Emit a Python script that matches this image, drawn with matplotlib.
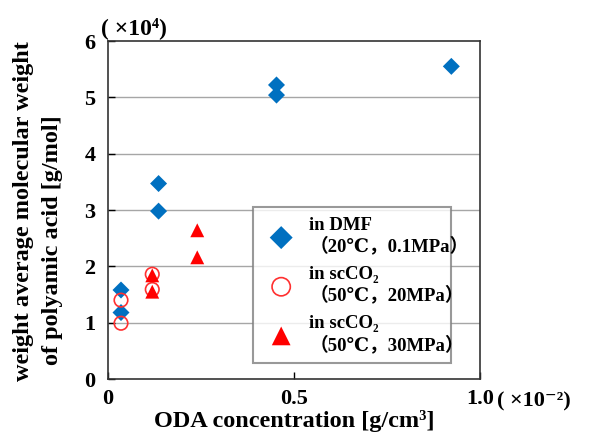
"""ODA concentration vs weight average molecular weight of polyamic acid."""

import matplotlib
matplotlib.use("Agg")
import matplotlib.pyplot as plt

# data
dmf_x = [0.035, 0.035, 0.136, 0.136, 0.453, 0.453, 0.923]
dmf_y = [1.58, 1.18, 3.47, 2.98, 5.22, 5.04, 5.55]

sc20_x = [0.035, 0.035, 0.119, 0.119]
sc20_y = [1.40, 0.99, 1.86, 1.59]

sc30_x = [0.119, 0.119, 0.240, 0.240]
sc30_y = [1.84, 1.55, 2.16, 2.64]

labels = [
    "in DMF\n（20℃，0.1MPa）",
    "in scCO₂\n（50℃，20MPa）",
    "in scCO₂\n（50℃，30MPa）",
]
x_ticks = [0, 0.5, 1.0]
x_tick_labels = ["0", "0.5", "1.0"]
y_ticks = [0, 1, 2, 3, 4, 5, 6]

FONT = ["Liberation Serif", "DejaVu Serif", "Noto Sans CJK JP"]
plt.rcParams["font.family"] = FONT
plt.rcParams["font.weight"] = "bold"

fig = plt.figure(figsize=(5.93, 4.40), dpi=100)
ax = fig.add_axes([0.1821, 0.1386, 0.6273, 0.7682])

ax.set_xlim(0, 1.0)
ax.set_ylim(0, 6)

for y in y_ticks[1:-1]:
    ax.axhline(y, color="#a6a6a6", lw=1.0, zorder=0)

ax.scatter(dmf_x, dmf_y, marker="D", s=75, color="#0070c0",
           edgecolors="none", label=labels[0], zorder=3)
ax.scatter(sc20_x, sc20_y, marker="o", s=95, facecolors="none",
           edgecolors="#ff3030", linewidths=1.2, label=labels[1], zorder=3)
ax.scatter(sc30_x, sc30_y, marker="^", s=100, color="#ff0000",
           edgecolors="none", label=labels[2], zorder=4)

ax.set_xticks(x_ticks)
ax.set_xticklabels(x_tick_labels)
ax.set_yticks(y_ticks)
ax.tick_params(direction="in", length=5, width=1, labelsize=16)
ax.tick_params(axis="x", pad=7)
ax.tick_params(axis="y", pad=9)
for lab in ax.get_xticklabels() + ax.get_yticklabels():
    lab.set_fontweight("bold")

for sp in ax.spines.values():
    sp.set_color("#333333")
    sp.set_linewidth(1.2)

leg = ax.legend(
    loc="lower left", bbox_to_anchor=(0.39, 0.047, 0.532, 0.524),
    mode="expand", frameon=True, fancybox=False, edgecolor="#808080",
    prop={"size": 13.5, "weight": "bold", "family": FONT},
    labelspacing=0.55, handletextpad=0.5, borderpad=0.5,
    scatterpoints=1, borderaxespad=0, markerscale=1.35,
)
leg.get_frame().set_linewidth(1.5)

fig.text(0.497, 0.044, "ODA concentration [g/cm³]",
         fontsize=17.5, fontweight="bold", ha="center", va="center")
fig.text(0.039, 0.52, "weight average molecular weight", rotation=90,
         fontsize=17.5, fontweight="bold", ha="center", va="center")
fig.text(0.089, 0.455, "of polyamic acid [g/mol]", rotation=90,
         fontsize=17.5, fontweight="bold", ha="center", va="center")
fig.text(0.170, 0.937, "( ×10⁴)", fontsize=17, fontweight="bold",
         ha="left", va="center")
fig.text(0.838, 0.088, "( ×10⁻²)", fontsize=16, fontweight="bold",
         ha="left", va="center")

fig.savefig("out.png", dpi=100)
